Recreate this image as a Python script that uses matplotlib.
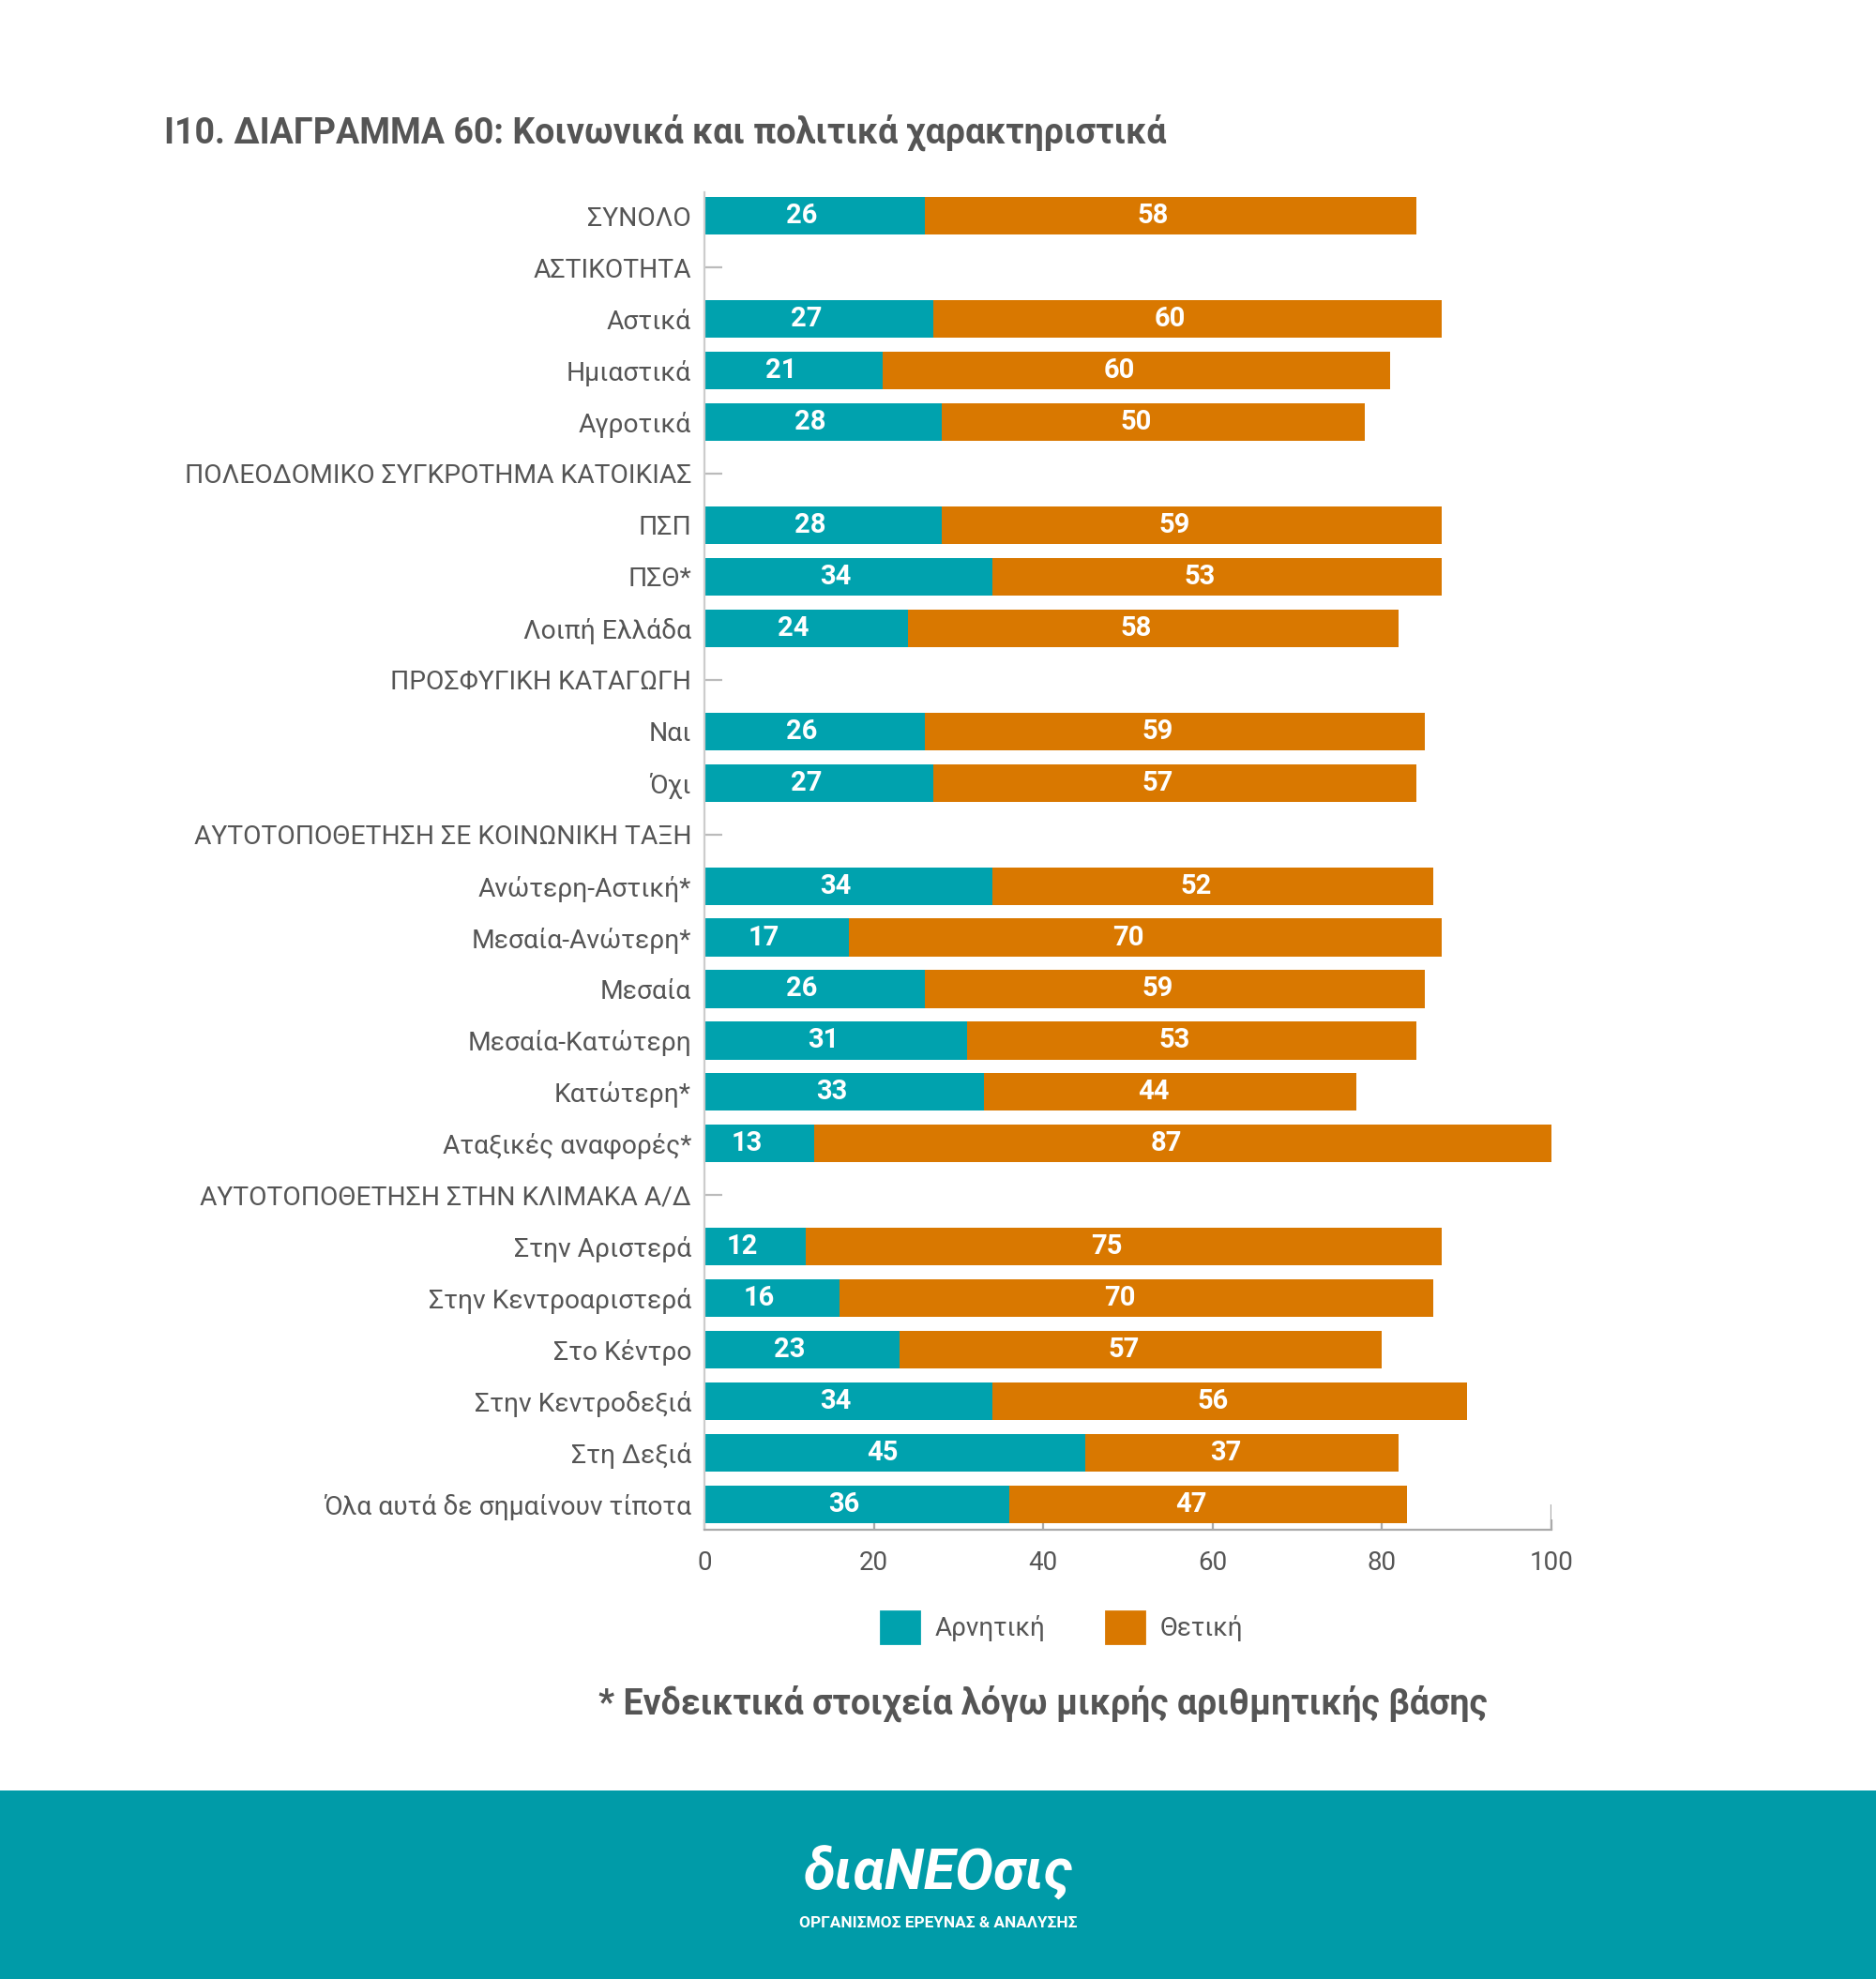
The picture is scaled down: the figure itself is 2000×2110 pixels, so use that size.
import matplotlib
matplotlib.use("Agg")
import matplotlib.pyplot as plt
from matplotlib.patches import Patch, Rectangle

plt.rcParams['font.family'] = ['Roboto', 'DejaVu Sans']

labels = ["ΣΥΝΟΛΟ", "ΑΣΤΙΚΟΤΗΤΑ", "Αστικά", "Ημιαστικά", "Αγροτικά",
          "ΠΟΛΕΟΔΟΜΙΚΟ ΣΥΓΚΡΟΤΗΜΑ ΚΑΤΟΙΚΙΑΣ", "ΠΣΠ", "ΠΣΘ*", "Λοιπή Ελλάδα",
          "ΠΡΟΣΦΥΓΙΚΗ ΚΑΤΑΓΩΓΗ", "Ναι", "Όχι",
          "ΑΥΤΟΤΟΠΟΘΕΤΗΣΗ ΣΕ ΚΟΙΝΩΝΙΚΗ ΤΑΞΗ", "Ανώτερη-Αστική*", "Μεσαία-Ανώτερη*",
          "Μεσαία", "Μεσαία-Κατώτερη", "Κατώτερη*", "Αταξικές αναφορές*",
          "ΑΥΤΟΤΟΠΟΘΕΤΗΣΗ ΣΤΗΝ ΚΛΙΜΑΚΑ Α/Δ", "Στην Αριστερά", "Στην Κεντροαριστερά",
          "Στο Κέντρο", "Στην Κεντροδεξιά", "Στη Δεξιά", "Όλα αυτά δε σημαίνουν τίποτα"]
negative = [26, None, 27, 21, 28, None, 28, 34, 24, None, 26, 27, None,
            34, 17, 26, 31, 33, 13, None, 12, 16, 23, 34, 45, 36]
positive = [58, None, 60, 60, 50, None, 59, 53, 58, None, 59, 57, None,
            52, 70, 59, 53, 44, 87, None, 75, 70, 57, 56, 37, 47]
series_names = ["Αρνητική", "Θετική"]
x_ticks = [0, 20, 40, 60, 80, 100]

TEAL = "#00A2AE"
ORANGE = "#D97800"
GREY = "#555555"

fig = plt.figure(figsize=(10, 10.55), dpi=200)
ax = fig.add_axes([0.3755, 0.227, 0.4515, 0.6758])
ax.set_axisbelow(True)  # keep the tick dashes behind the bars

for i, (n, p) in enumerate(zip(negative, positive)):
    if n is None:
        continue
    ax.barh(i, n, height=0.73, color=TEAL)
    ax.barh(i, p, left=n, height=0.73, color=ORANGE)
    # labels sit a touch left of the segment centre, like the original
    ax.text(n / 2 - 1.5, i, str(n), ha="center", va="center", color="white",
            fontsize=10.5, fontweight="bold")
    ax.text(n + p / 2 - 2, i, str(p), ha="center", va="center", color="white",
            fontsize=10.5, fontweight="bold")

ax.set_xlim(0, 100)
ax.set_ylim(len(labels) - 0.51, -0.455)
ax.set_yticks(range(len(labels)))
ax.set_yticklabels(labels, fontsize=10.2, color=GREY)
ax.set_xticks(x_ticks)
ax.set_xticklabels([str(t) for t in x_ticks], fontsize=10, color=GREY)
ax.tick_params(axis="y", direction="in", length=7, width=0.8, color="#bbbbbb", pad=5)
ax.tick_params(axis="x", direction="in", length=4, width=0.8, color="#aaaaaa", pad=8)

for s in ["top", "right"]:
    ax.spines[s].set_visible(False)
ax.spines["left"].set_color("#cccccc")
ax.spines["bottom"].set_color("#aaaaaa")
ax.spines["left"].set_linewidth(0.8)
ax.spines["bottom"].set_linewidth(0.8)
# short right edge piece at 100
ax.vlines(100, len(labels) - 1, len(labels) - 0.51, color="#aaaaaa", linewidth=0.8)

fig.text(0.0875, 0.9332, "I10. ΔΙΑΓΡΑΜΜΑ 60: Κοινωνικά και πολιτικά χαρακτηριστικά",
         fontsize=13.5, fontweight="bold", color=GREY, va="center", ha="left")

handles = [Patch(color=TEAL), Patch(color=ORANGE)]
fig.legend(handles, series_names, loc="center", bbox_to_anchor=(0.566, 0.1777),
           ncol=2, frameon=False, fontsize=10, handlelength=1.5, handleheight=1.5,
           handletextpad=0.6, columnspacing=2.3, labelcolor=GREY)

fig.text(0.556, 0.139, "* Ενδεικτικά στοιχεία λόγω μικρής αριθμητικής βάσης",
         fontsize=13.5, fontweight="bold", color=GREY, ha="center", va="center")

# footer band
fig.patches.append(Rectangle((0, 0), 1, 0.0953, transform=fig.transFigure,
                             facecolor="#009BA8", edgecolor="none", zorder=0))
fig.text(0.5, 0.0535, "διαΝΕΟσις", fontsize=22, fontweight="bold", style="italic",
         color="white", ha="center", va="center")
fig.text(0.5, 0.028, "ΟΡΓΑΝΙΣΜΟΣ ΕΡΕΥΝΑΣ & ΑΝΑΛΥΣΗΣ", fontsize=6.2, fontweight="bold",
         color="white", ha="center", va="center")

fig.savefig("out.png", dpi=200, facecolor="white")
